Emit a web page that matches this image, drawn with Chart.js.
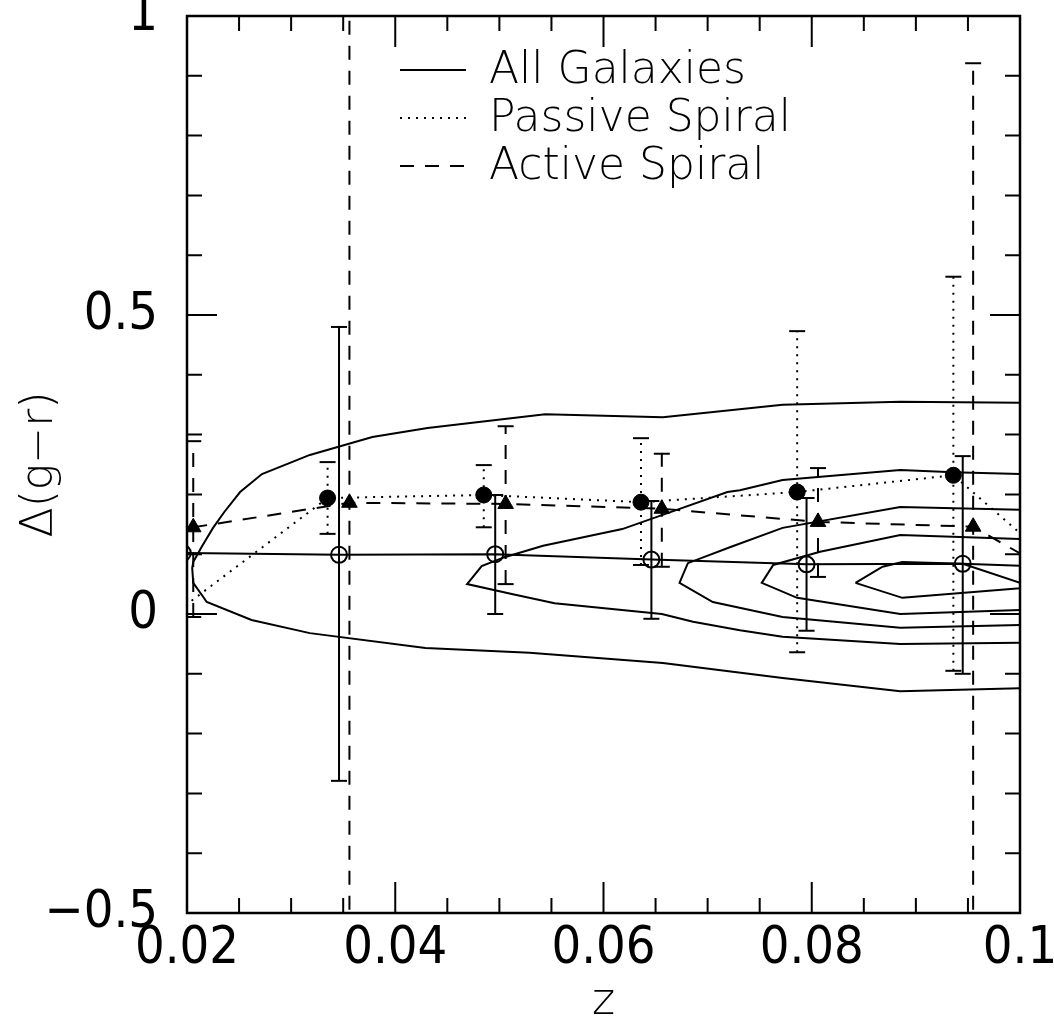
<!DOCTYPE html>
<html>
<head>
<meta charset="utf-8">
<script src="https://cdn.jsdelivr.net/npm/chart.js@4.4.0/dist/chart.umd.min.js"></script>
<style>
  html, body { margin: 0; padding: 0; background: #fff; }
  #wrap { width: 1054px; height: 1024px; }
</style>
</head>
<body>
<div id="wrap"><canvas id="myChart" width="1054" height="1024"></canvas></div>
<script>
// redshift bins and colour offsets
const zAll = [0.0196, 0.0346, 0.0496, 0.0646, 0.0795, 0.0945, 0.1096];
const gAll = [0.102, 0.099, 0.100, 0.091, 0.083, 0.084, 0.075];
const gAllLo = [null, -0.279, 0.000, -0.008, -0.028, -0.100, null];
const gAllHi = [null, 0.480, 0.199, 0.189, 0.194, 0.264, null];

const zPassive = [0.0186, 0.0335, 0.0485, 0.0636, 0.0786, 0.0936, 0.1086];
const gPassive = [-0.002, 0.194, 0.199, 0.187, 0.204, 0.232, 0.005];
const gPassiveLo = [null, 0.134, 0.145, 0.082, -0.064, -0.095, null];
const gPassiveHi = [null, 0.254, 0.249, 0.294, 0.473, 0.564, null];

const zActive = [0.0206, 0.0356, 0.0506, 0.0656, 0.0806, 0.0955, 0.1106];
const gActive = [0.145, 0.186, 0.184, 0.176, 0.154, 0.146, -0.004];
const gActiveLo = [-0.005, -0.62, 0.050, 0.079, 0.062, -0.62, null];
const gActiveHi = [0.289, 1.10, 0.314, 0.268, 0.244, 0.921, null];

// density contours of all galaxies, [z, delta(g-r)]
const contourOuter = [[0.1005, 0.353], [0.0885, 0.355], [0.0772, 0.350], [0.0657, 0.329], [0.0544, 0.334],
  [0.0431, 0.311], [0.0378, 0.296], [0.0318, 0.266], [0.0272, 0.234], [0.0251, 0.204], [0.0236, 0.171],
  [0.0225, 0.144], [0.0214, 0.112], [0.0206, 0.087], [0.0205, 0.077], [0.0206, 0.052], [0.0219, 0.020],
  [0.0262, -0.010], [0.0318, -0.032], [0.0429, -0.057], [0.0529, -0.065], [0.0657, -0.082],
  [0.0772, -0.107], [0.0885, -0.129], [0.1005, -0.124]];
const contour2 = [[0.1005, 0.234], [0.0936, 0.237], [0.0885, 0.241], [0.0772, 0.224], [0.0731, 0.207],
  [0.0719, 0.204], [0.0667, 0.172], [0.0618, 0.142], [0.0542, 0.114], [0.0505, 0.095], [0.0483, 0.080],
  [0.0469, 0.050], [0.0513, 0.033], [0.0553, 0.018], [0.0656, 0.000], [0.0686, -0.013], [0.0731, -0.027],
  [0.0772, -0.038], [0.0885, -0.050], [0.1005, -0.048]];
const contour3 = [[0.1005, 0.174], [0.0885, 0.179], [0.0772, 0.144], [0.0722, 0.112], [0.0681, 0.085],
  [0.0673, 0.052], [0.0705, 0.020], [0.0772, -0.005], [0.0885, -0.023], [0.1005, -0.018]];
const contour4 = [[0.1005, 0.125], [0.0885, 0.132], [0.0808, 0.104], [0.0763, 0.082], [0.0752, 0.052],
  [0.0786, 0.027], [0.0885, 0.000], [0.1005, 0.007]];
const contour5 = [[0.0842, 0.052], [0.0868, 0.079], [0.0887, 0.087], [0.0945, 0.084], [0.1000, 0.052],
  [0.1010, 0.047], [0.1000, 0.043], [0.0887, 0.027], [0.0842, 0.052]];

const legendLabels = ['All Galaxies', 'Passive Spiral', 'Active Spiral'];
const xTitle = 'z';
const yTitle = 'Δ(g−r)';

const DOTS = [2, 6];
const DASHES = [14, 11];
const tickFont = "'Liberation Sans Narrow', 'DejaVu Sans Condensed', 'Arial Narrow', sans-serif";
const textFont = "'DejaVu Sans', sans-serif";

const ctx = document.getElementById('myChart');

function pts(zs, gs) {
  return zs.map((z, i) => ({x: z, y: gs[i]}));
}

function errorBars(zs, lo, hi) {
  const out = [];
  zs.forEach((z, i) => {
    if (lo[i] === null) return;
    out.push({x: z, y: lo[i]}, {x: z, y: hi[i]}, {x: z, y: null});
  });
  return out;
}

function contourSet(arr) {
  return {
    data: arr.map(p => ({x: p[0], y: p[1]})),
    showLine: true, borderColor: '#000', borderWidth: 2, pointRadius: 0, tension: 0, clip: 0
  };
}

function errSet(zs, lo, hi, dash) {
  return {
    data: errorBars(zs, lo, hi),
    showLine: true, spanGaps: false, borderColor: '#000', borderWidth: 2, borderDash: dash,
    pointStyle: 'line', pointRadius: 8, pointBorderWidth: 2, pointBorderColor: '#000', clip: 0
  };
}

const frameTicks = {
  id: 'frameTicks',
  afterDatasetsDraw(chart) {
    const c = chart.ctx, a = chart.chartArea, x = chart.scales.x, y = chart.scales.y;
    c.save();
    c.strokeStyle = '#000';
    c.lineWidth = 2;
    c.beginPath();
    for (let i = 0; i <= 16; i++) {
      const px = x.getPixelForValue(0.02 + i * 0.005);
      const len = i % 4 === 0 ? 31 : 15;
      c.moveTo(px, a.bottom); c.lineTo(px, a.bottom - len);
      c.moveTo(px, a.top); c.lineTo(px, a.top + len);
    }
    for (let i = 0; i <= 15; i++) {
      const py = y.getPixelForValue(-0.5 + i * 0.1);
      const len = i % 5 === 0 ? 30 : 15;
      c.moveTo(a.left, py); c.lineTo(a.left + len, py);
      c.moveTo(a.right, py); c.lineTo(a.right - len, py);
    }
    c.stroke();
    c.lineWidth = 2.5;
    c.strokeRect(a.left, a.top, a.right - a.left, a.bottom - a.top);
    c.restore();
  }
};

const keyBox = {
  id: 'keyBox',
  afterDraw(chart) {
    const c = chart.ctx, a = chart.chartArea;
    const dashes = [[], DOTS, DASHES];
    c.save();
    c.fillStyle = '#000';
    c.strokeStyle = '#000';
    c.lineWidth = 2;
    c.font = '200 44px ' + textFont;
    c.textBaseline = 'middle';
    legendLabels.forEach((lab, i) => {
      const yy = a.top + 54 + i * 48;
      c.setLineDash(dashes[i]);
      c.beginPath();
      c.moveTo(a.left + 213, yy);
      c.lineTo(a.left + 279, yy);
      c.stroke();
      c.fillText(lab, a.left + 302, yy + 2);
    });
    c.restore();
  }
};

new Chart(ctx, {
  type: 'scatter',
  data: {
    datasets: [
      contourSet(contourOuter), contourSet(contour2), contourSet(contour3), contourSet(contour4), contourSet(contour5),
      errSet(zAll, gAllLo, gAllHi, []),
      errSet(zPassive, gPassiveLo, gPassiveHi, DOTS),
      errSet(zActive, gActiveLo, gActiveHi, DASHES),
      {
        label: legendLabels[0], data: pts(zAll, gAll), showLine: true, borderColor: '#000', borderWidth: 2,
        pointStyle: 'circle', pointRadius: 8, pointBorderWidth: 2, pointBorderColor: '#000',
        pointBackgroundColor: 'rgba(0,0,0,0)', clip: 0
      },
      {
        label: legendLabels[1], data: pts(zPassive, gPassive), showLine: true, borderColor: '#000', borderWidth: 2,
        borderDash: DOTS, pointStyle: 'circle', pointRadius: 8, pointBorderWidth: 1,
        pointBorderColor: '#000', pointBackgroundColor: '#000', clip: 0
      },
      {
        label: legendLabels[2], data: pts(zActive, gActive), showLine: true, borderColor: '#000', borderWidth: 2,
        borderDash: DASHES, pointStyle: 'triangle', pointRadius: 9, pointBorderWidth: 1,
        pointBorderColor: '#000', pointBackgroundColor: '#000', clip: 0
      }
    ]
  },
  options: {
    responsive: false,
    animation: false,
    events: [],
    layout: { padding: { left: 0, right: 34, top: 16, bottom: 0 } },
    plugins: { legend: { display: false }, tooltip: { enabled: false } },
    scales: {
      x: {
        type: 'linear', min: 0.02, max: 0.1,
        grid: { display: false, drawTicks: false }, border: { display: false },
        ticks: {
          stepSize: 0.02, autoSkip: false, maxRotation: 0, padding: 5, color: '#000',
          font: { family: tickFont, size: 52 },
          callback: v => String(+v.toFixed(2))
        },
        title: { display: true, text: xTitle, color: '#000', font: { family: textFont, size: 44, weight: '200' }, padding: { top: 0, bottom: -5 } },
        afterFit: s => { s.height = 111; s.paddingLeft = 0; s.paddingRight = 0; }
      },
      y: {
        type: 'linear', min: -0.5, max: 1,
        grid: { display: false, drawTicks: false }, border: { display: false },
        ticks: {
          stepSize: 0.5, padding: 29, color: '#000',
          font: { family: tickFont, size: 52 },
          callback: v => (v < 0 ? '\u2212' + Math.abs(v) : String(v))
        },
        title: { display: true, text: yTitle, color: '#000', font: { family: textFont, size: 44, weight: '200' }, padding: { top: 14, bottom: 0 } },
        afterFit: s => { s.width = 187; s.paddingTop = 0; s.paddingBottom = 0; }
      }
    }
  },
  plugins: [frameTicks, keyBox]
});
</script>
</body>
</html>
